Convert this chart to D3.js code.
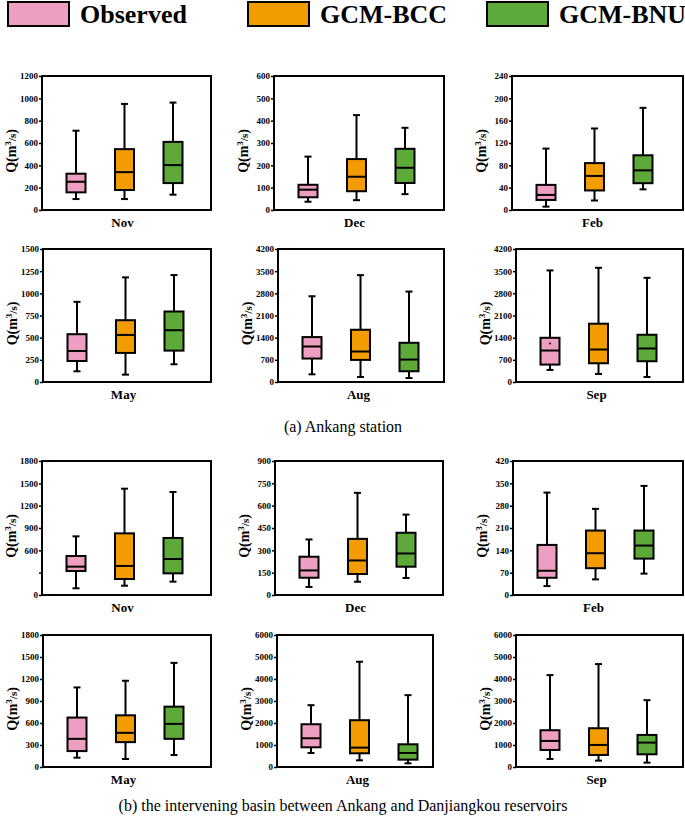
<!DOCTYPE html>
<html><head><meta charset="utf-8">
<script src="https://cdn.jsdelivr.net/npm/d3@7"></script>
<style>
html,body{margin:0;padding:0;background:#fff;}
svg{display:block;font-family:"Liberation Serif","Times New Roman",serif;}
</style></head>
<body>
<svg id="chart" width="685" height="819"></svg>
<script>
// ---------- data ----------
const series = ["Observed", "GCM-BCC", "GCM-BNU"];
const colors = ["#EE9EC0", "#F29C00", "#5DAA3A"];
const months = ["Nov", "Dec", "Feb", "May", "Aug", "Sep"];

// [lower whisker, Q1, median, Q3, upper whisker] for Observed, GCM-BCC, GCM-BNU
const ankangNov = [[98,158,253,325,710],[98,179,339,545,950],[137,241,402,610,962]];
const ankangDec = [[37,57,91,113,239],[44,84,149,228,425],[71,121,189,274,368]];
const ankangFeb = [[6,18,27,45,110],[17,35,61,84,146],[37,48,71,98,183]];
const ankangMay = [[121,237,350,539,904],[83,328,531,697,1180],[200,354,584,795,1206]];
const ankangAug = [[243,741,1121,1418,2708],[159,698,963,1650,3375],[127,339,709,1238,2856]];
const ankangSep = [[381,550,994,1396,3523],[254,592,1026,1841,3607],[159,656,1058,1492,3290]];
const ankangSepDot = [1217];

const basinNov = [[90,322,381,524,788],[125,215,390,828,1428],[179,291,484,766,1384]];
const basinDec = [[54,116,165,257,373],[89,141,232,377,686],[114,190,279,418,540]];
const basinFeb = [[28,54,76,157,321],[49,84,131,202,270],[67,114,155,202,342]];
const basinMay = [[127,217,384,674,1085],[109,339,466,705,1176],[163,384,588,823,1420]];
const basinAug = [[638,896,1306,1944,2810],[304,623,881,2127,4785],[167,334,638,1033,3266]];
const basinSep = [[365,775,1185,1671,4177],[289,547,1003,1762,4678],[198,577,1109,1458,3038]];

const ankangMax  = [1200, 600, 240, 1500, 4200, 4200];
const ankangStep = [200, 100, 40, 250, 700, 700];
const basinMax   = [1800, 900, 420, 1800, 6000, 6000];
const basinStep  = [300, 150, 70, 300, 1000, 1000];
const basinNovHiddenTick = [300];

const captionA = "(a) Ankang station";
const captionB = "(b) the intervening basin between Ankang and Danjiangkou reservoirs";

// ---------- layout ----------
const svg = d3.select("#chart");
const rowsY = [[76,210],[249,382],[461,595],[635,767]];
const colsX = [
  [[42,211],[274,444],[512,683]],
  [[43,211],[278,444],[516,683]],
  [[42,211],[275,443],[513,683]],
  [[43,211],[277,433],[516,683]]
];

const panels = [
  {row:0,col:0,m:0,data:ankangNov,max:ankangMax[0],step:ankangStep[0]},
  {row:0,col:1,m:1,data:ankangDec,max:ankangMax[1],step:ankangStep[1]},
  {row:0,col:2,m:2,data:ankangFeb,max:ankangMax[2],step:ankangStep[2]},
  {row:1,col:0,m:3,data:ankangMay,max:ankangMax[3],step:ankangStep[3]},
  {row:1,col:1,m:4,data:ankangAug,max:ankangMax[4],step:ankangStep[4]},
  {row:1,col:2,m:5,data:ankangSep,max:ankangMax[5],step:ankangStep[5],dots:ankangSepDot},
  {row:2,col:0,m:0,data:basinNov,max:basinMax[0],step:basinStep[0],hidden:basinNovHiddenTick},
  {row:2,col:1,m:1,data:basinDec,max:basinMax[1],step:basinStep[1]},
  {row:2,col:2,m:2,data:basinFeb,max:basinMax[2],step:basinStep[2]},
  {row:3,col:0,m:3,data:basinMay,max:basinMax[3],step:basinStep[3]},
  {row:3,col:1,m:4,data:basinAug,max:basinMax[4],step:basinStep[4]},
  {row:3,col:2,m:5,data:basinSep,max:basinMax[5],step:basinStep[5]}
];

const boxW = 19, capW = 7;

panels.forEach(p => {
  const [x0, x1] = colsX[p.row][p.col];
  const [y0, y1] = rowsY[p.row];
  const g = svg.append("g");
  const y = d3.scaleLinear().domain([0, p.max]).range([y1, y0]);
  const x = d3.scalePoint().domain(series).range([x0 + 34, x0 + 131]);

  // axis ticks
  const ticks = d3.range(0, p.max + p.step / 2, p.step);
  const hidden = p.hidden || [];
  const ax = g.append("g").attr("transform", `translate(${x0},0)`)
    .call(d3.axisLeft(y).tickValues(ticks).tickSize(3).tickPadding(1)
      .tickFormat(d => hidden.includes(d) ? "" : d3.format("d")(d)));
  ax.select(".domain").remove();
  ax.selectAll("line").attr("stroke", "#000").attr("stroke-width", 1.5);
  ax.selectAll("text").attr("font-size", 9).attr("font-weight", "bold")
    .attr("fill", "#000").attr("font-family", "'Liberation Serif',serif");

  // frame
  g.append("rect").attr("x", x0).attr("y", y0).attr("width", x1 - x0).attr("height", y1 - y0)
    .attr("fill", "none").attr("stroke", "#000").attr("stroke-width", 2);

  // boxes
  const bg = g.selectAll("g.box").data(p.data).enter().append("g");
  bg.append("line")
    .attr("x1", (d, i) => x(series[i])).attr("x2", (d, i) => x(series[i]))
    .attr("y1", d => y(d[0])).attr("y2", d => y(d[4]))
    .attr("stroke", "#000").attr("stroke-width", 2);
  [0, 4].forEach(k => {
    bg.append("line")
      .attr("x1", (d, i) => x(series[i]) - capW / 2).attr("x2", (d, i) => x(series[i]) + capW / 2)
      .attr("y1", d => y(d[k])).attr("y2", d => y(d[k]))
      .attr("stroke", "#000").attr("stroke-width", 2);
  });
  bg.append("rect")
    .attr("x", (d, i) => x(series[i]) - boxW / 2).attr("width", boxW)
    .attr("y", d => y(d[3])).attr("height", d => y(d[1]) - y(d[3]))
    .attr("fill", (d, i) => colors[i]).attr("stroke", "#000").attr("stroke-width", 2);
  bg.append("line")
    .attr("x1", (d, i) => x(series[i]) - boxW / 2).attr("x2", (d, i) => x(series[i]) + boxW / 2)
    .attr("y1", d => y(d[2])).attr("y2", d => y(d[2]))
    .attr("stroke", "#000").attr("stroke-width", 2);

  if (p.dots) {
    g.selectAll("circle.dot").data(p.dots).enter().append("circle")
      .attr("cx", x(series[0])).attr("cy", d => y(d)).attr("r", 1).attr("fill", "#000");
  }

  // month label
  g.append("text").attr("x", x(series[1]) - 2).attr("y", y1 + 17)
    .attr("text-anchor", "middle").attr("font-size", 13).attr("font-weight", "bold")
    .text(months[p.m]);

  // y label
  const lab = g.append("text")
    .attr("transform", `translate(${x0 - 26},${(y0 + y1) / 2 + 8}) rotate(-90)`)
    .attr("text-anchor", "middle").attr("font-size", 14).attr("font-weight", "bold");
  lab.append("tspan").text("Q(m");
  lab.append("tspan").attr("font-size", 9).attr("dy", -5).text("3");
  lab.append("tspan").attr("font-size", 11).attr("dy", 5).text("/s");
  lab.append("tspan").text(")");
});

// ---------- legend ----------
const legX = [8, 248, 487];
const lg = svg.append("g");
series.forEach((s, i) => {
  lg.append("rect").attr("x", legX[i]).attr("y", 2).attr("width", 61).attr("height", 24)
    .attr("fill", colors[i]).attr("stroke", "#000").attr("stroke-width", 2);
  lg.append("text").attr("x", legX[i] + 72).attr("y", 23)
    .attr("font-size", 26).attr("font-weight", "bold").text(s);
});

// ---------- captions ----------
svg.append("text").attr("x", 343).attr("y", 432).attr("text-anchor", "middle")
  .attr("font-size", 16).text(captionA);
svg.append("text").attr("x", 343).attr("y", 811).attr("text-anchor", "middle")
  .attr("font-size", 16).text(captionB);
</script>
</body></html>
